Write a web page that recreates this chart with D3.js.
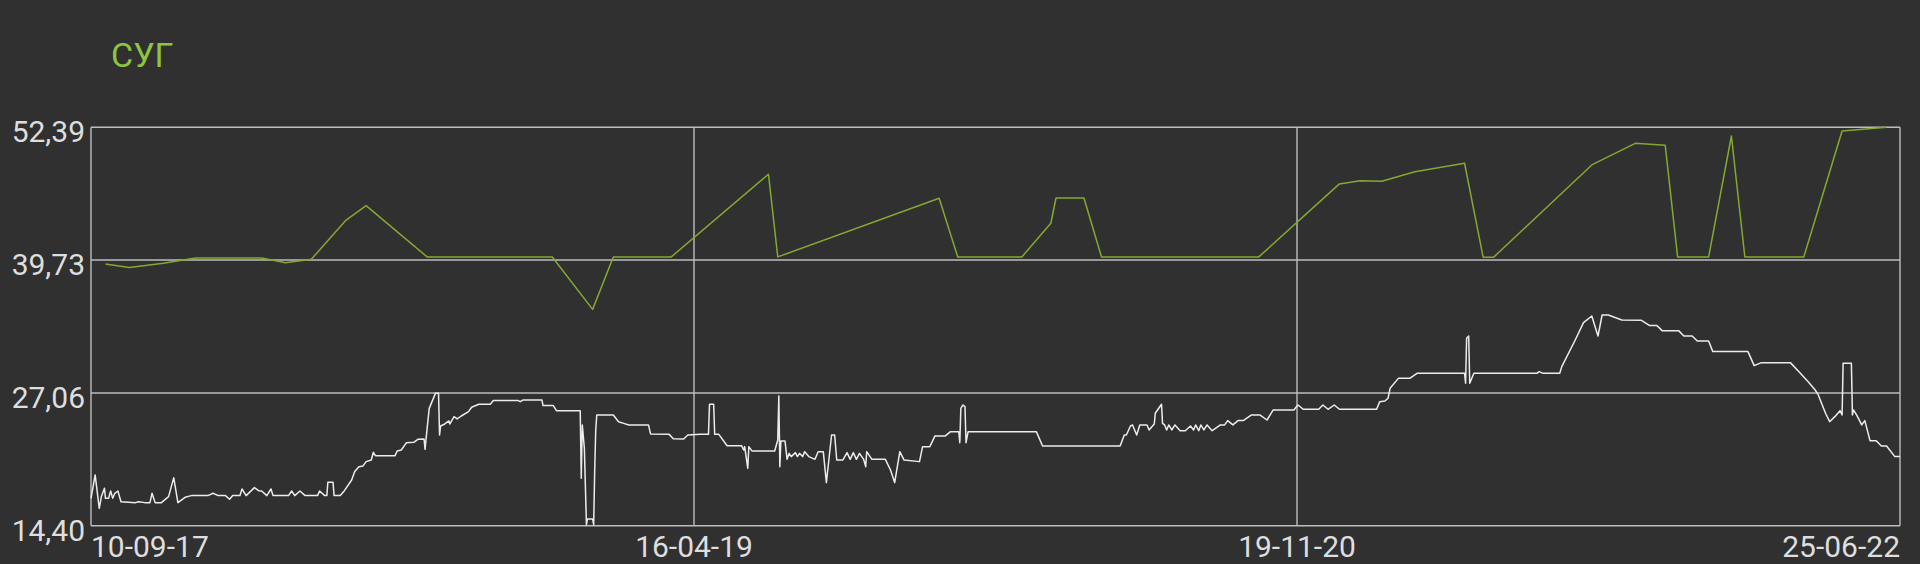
<!DOCTYPE html>
<html>
<head>
<meta charset="utf-8">
<script src="https://cdnjs.cloudflare.com/ajax/libs/d3/7.8.5/d3.min.js"></script>
<style>
  html, body { margin: 0; padding: 0; background: #303030; }
  #chart-area { width: 1920px; height: 564px; overflow: hidden; }
  text { font-family: Roboto, "Noto Sans", sans-serif; }
</style>
</head>
<body>
<div id="chart-area"></div>
<script>
const title = "СУГ"

const startDate = "2017-09-10"
const endDate = "2022-06-25"
const tickDates = ["2017-09-10", "2019-04-16", "2020-11-19", "2022-06-25"]
const yTicks = [14.40, 27.06, 39.73, 52.39]

// days after startDate
const greenDays = [14, 37, 70, 101, 165, 188, 213, 246, 266, 325, 446, 485, 505, 561, 655, 664, 820, 838,
  900, 928, 933, 960, 977, 1129, 1207, 1227, 1248, 1280, 1328, 1346, 1356, 1451, 1493, 1522, 1534,
  1564, 1586, 1599, 1656, 1693, 1736]
const greenValues = [39.36, 39.01, 39.42, 39.93, 39.93, 39.48, 39.80, 43.49, 44.92, 40.03, 40.03, 35.03, 40.03, 40.03, 47.91, 40.03, 45.62, 40.03,
  40.03, 43.24, 45.65, 45.65, 40.03, 40.03, 46.99, 47.30, 47.24, 48.16, 48.96, 39.99, 39.99, 48.80, 50.86, 50.67, 40.03,
  40.03, 51.56, 40.03, 40.03, 52.04, 52.39]

const whiteDays = [0, 4, 8, 10, 13, 14, 17, 19, 21, 23, 26, 29, 43, 46, 52, 57, 59, 62, 68, 75, 80, 84, 91, 97,
  113, 118, 123, 130, 134, 137, 144, 146, 150, 158, 162, 165, 170, 174, 176, 191, 194, 197, 202, 207,
  219, 221, 226, 228, 229, 234, 235, 241, 245, 252, 255, 259, 263, 266, 271, 273, 275, 294,
  296, 300, 305, 312, 316, 322, 323, 324, 327, 333, 336, 337, 338, 342, 346, 347, 351, 354, 358, 365,
  368, 375, 386, 389, 413, 415, 418, 436, 437, 447, 450, 473, 474, 475, 477, 479, 480, 485, 486, 487,
  488, 489, 505, 510, 515, 520, 539, 541, 559, 563, 573, 577, 589,
  597, 598, 602, 603, 607, 615, 629, 631, 632, 635, 636, 639, 661, 664, 665, 666, 667, 671, 673, 675,
  677, 681, 683, 685, 688, 690, 694, 700, 703, 708, 711, 716, 719, 721, 727, 731, 734, 737, 740, 743,
  747, 749, 750, 755, 768, 773, 777, 782, 786, 801, 804, 811, 816, 826, 831, 839, 840, 841, 843, 845,
  846, 848, 879,
  914, 920, 995, 999, 1001, 1005, 1007, 1011, 1014, 1021, 1023, 1028, 1029, 1035, 1036, 1038, 1040,
  1042, 1045, 1048, 1053, 1058, 1063, 1066, 1068, 1071, 1073, 1076, 1079, 1084, 1092, 1096, 1099,
  1104, 1109, 1114, 1122, 1130, 1137, 1143, 1163, 1166,
  1167, 1172, 1187, 1191, 1196, 1202, 1207, 1243, 1246, 1251, 1254, 1256, 1264, 1275, 1282, 1328,
  1329, 1330, 1332, 1333, 1337, 1398, 1400, 1404, 1420, 1422, 1435, 1443, 1451, 1457,
  1461, 1467, 1480, 1499, 1507, 1514, 1519, 1535, 1540, 1548, 1553, 1564, 1568, 1602, 1608, 1615,
  1643, 1652, 1660, 1667, 1670, 1677, 1681, 1686, 1691, 1693, 1694, 1702, 1703, 1704, 1707, 1712,
  1715, 1720, 1726, 1731, 1736, 1744, 1749]
const whiteValues = [17.01, 19.24, 16.06, 17.17, 17.97, 17.01, 17.01, 17.71, 17.01, 17.49, 17.71, 16.69, 16.60, 16.69, 16.60, 16.60, 17.49, 16.60, 16.60, 17.17, 18.98, 16.60, 17.11, 17.27,
  17.27, 17.49, 17.27, 17.27, 16.92, 17.27, 17.27, 17.90, 17.27, 18.03, 17.74, 17.71, 17.27, 17.90, 17.27, 17.27, 17.71, 17.27, 17.71, 17.27,
  17.27, 17.71, 17.27, 17.27, 18.54, 18.54, 17.27, 17.27, 17.74, 18.76, 19.56, 20.03, 20.10, 20.51, 20.67, 21.40, 21.08, 21.08,
  21.53, 21.62, 22.32, 22.35, 22.64, 22.67, 21.68, 22.73, 25.59, 27.02, 27.02, 23.05, 23.91, 24.10, 24.39, 24.10, 24.80, 24.58, 24.86, 25.28,
  25.69, 25.98, 25.98, 26.33, 26.33, 26.23, 26.39, 26.39, 25.85, 25.85, 25.37, 25.37, 18.92, 24.01, 21.78, 14.50, 15.04, 15.04, 14.50, 19.71,
  23.53, 24.96, 24.96, 24.32, 24.16, 24.01, 24.01, 23.15, 23.11, 22.70, 22.67, 23.05, 23.11,
  23.11, 25.98, 25.98, 23.11, 23.11, 22.03, 22.03, 21.62, 21.94, 19.87, 21.94, 21.53, 21.53, 22.57, 26.77, 20.03, 22.48, 22.48, 20.73, 21.30,
  20.99, 21.37, 20.99, 21.30, 20.99, 21.46, 20.99, 20.73, 21.46, 21.46, 18.51, 23.05, 23.05, 20.67, 20.67, 21.37, 20.73, 21.37, 20.73, 21.30,
  20.73, 20.03, 21.46, 20.73, 20.73, 19.71, 18.51, 21.46, 20.67, 20.51, 21.94, 21.94, 22.96, 22.96, 23.37, 23.37, 22.32, 25.59, 25.91, 25.75,
  22.32, 23.37, 23.37,
  23.37, 22.00, 22.00, 23.05, 23.05, 23.91, 24.01, 23.05, 24.01, 24.01, 23.53, 24.10, 25.12, 25.98, 24.16, 24.01, 23.53,
  24.01, 23.53, 24.01, 23.46, 23.46, 23.91, 23.53, 24.01, 23.46, 24.01, 23.53, 24.01, 23.46, 24.01, 24.01, 24.42,
  24.01, 24.42, 24.42, 24.96, 24.96, 24.48, 25.44, 25.44, 25.82,
  25.91, 25.50, 25.50, 25.91, 25.50, 25.91, 25.50, 25.50, 26.23, 26.29, 26.55, 27.50, 28.45, 28.45, 28.93, 28.93,
  27.98, 32.27, 32.49, 27.98, 28.93, 28.93, 29.09, 28.93, 28.93, 29.57, 32.11, 33.76, 34.40, 32.49,
  34.49, 34.49, 34.02, 33.99, 33.48, 33.48, 33.00, 33.00, 32.49, 32.49, 32.02, 32.02, 31.00, 31.00, 29.66, 29.95,
  29.95, 29.00, 28.14, 27.34, 26.87, 25.12, 24.32, 24.80, 25.37, 24.96, 29.89, 29.89, 24.96, 25.44, 24.96, 24.01,
  24.42, 22.51, 22.51, 22.00, 22.00, 20.99, 20.99]

const w = 1920
const h = 564
const plotLeft = 91, plotRight = 1900, plotTop = 127.3, plotBottom = 525.7

const parseDate = d3.timeParse("%Y-%m-%d")
const formatDate = d3.timeFormat("%d-%m-%y")
const formatValue = (v) => v.toFixed(2).replace(".", ",")
const start = parseDate(startDate)

const svg = d3.select("#chart-area")
  .append("svg")
  .attr("width", w)
  .attr("height", h)

svg.append("rect")
  .attr("width", w)
  .attr("height", h)
  .attr("fill", "#303030")

const x = d3.scaleTime()
  .domain([start, parseDate(endDate)])
  .range([plotLeft, plotRight])

const y = d3.scaleLinear()
  .domain([yTicks[0], yTicks[yTicks.length - 1]])
  .range([plotBottom, plotTop])

svg.append("text")
  .attr("x", 111)
  .attr("y", 67)
  .attr("fill", "#8cc63e")
  .attr("font-size", 34)
  .text(title)

const xTicks = tickDates.map(parseDate)

svg.append("g")
  .selectAll("line")
  .data(yTicks)
  .enter()
  .append("line")
  .attr("x1", plotLeft)
  .attr("x2", plotRight)
  .attr("y1", (d) => y(d))
  .attr("y2", (d) => y(d))
  .attr("stroke", "#bdbdbd")
  .attr("stroke-width", 1.4)

svg.append("g")
  .selectAll("line")
  .data(xTicks)
  .enter()
  .append("line")
  .attr("x1", (d) => x(d))
  .attr("x2", (d) => x(d))
  .attr("y1", plotTop)
  .attr("y2", plotBottom)
  .attr("stroke", "#bdbdbd")
  .attr("stroke-width", 1.4)

svg.append("g")
  .selectAll("text")
  .data(yTicks)
  .enter()
  .append("text")
  .attr("x", 85)
  .attr("y", (d) => y(d) + 15)
  .attr("text-anchor", "end")
  .attr("fill", "#dedede")
  .attr("font-size", 30)
  .text((d) => formatValue(d))

svg.append("g")
  .selectAll("text")
  .data(xTicks)
  .enter()
  .append("text")
  .attr("x", (d) => x(d))
  .attr("y", 557)
  .attr("text-anchor", (d, i) => i == 0 ? "start" : (i == xTicks.length - 1 ? "end" : "middle"))
  .attr("fill", "#dedede")
  .attr("font-size", 30)
  .text((d) => formatDate(d))

const line = d3.line()
  .x((d) => x(d3.timeDay.offset(start, d[0])))
  .y((d) => y(d[1]))

svg.append("path")
  .datum(whiteDays.map((d, i) => [d, whiteValues[i]]))
  .attr("d", line)
  .attr("fill", "none")
  .attr("stroke", "#ececec")
  .attr("stroke-width", 1.5)
  .attr("stroke-linejoin", "round")

svg.append("path")
  .datum(greenDays.map((d, i) => [d, greenValues[i]]))
  .attr("d", line)
  .attr("fill", "none")
  .attr("stroke", "#85a832")
  .attr("stroke-width", 1.5)
  .attr("stroke-linejoin", "round")
</script>
</body>
</html>
